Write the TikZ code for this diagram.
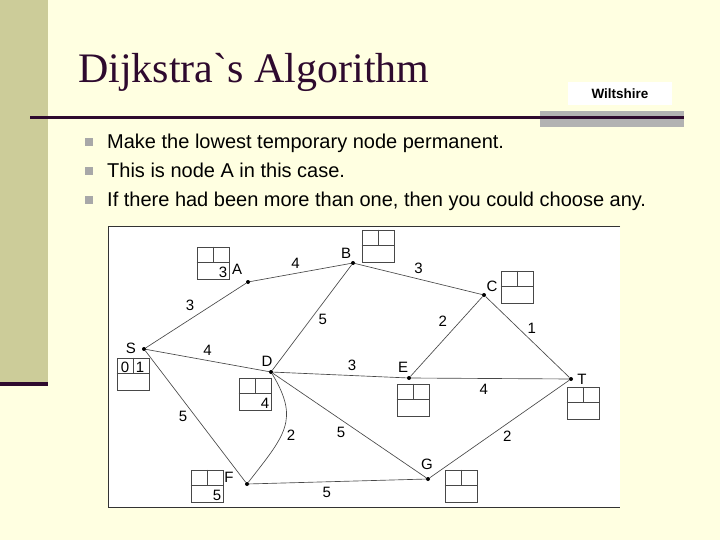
\documentclass[tikz,border=0pt]{standalone}
\usepackage{fontspec}
\setmainfont{Liberation Sans}
\newfontfamily\titlefont{Liberation Serif}
\usepackage{xcolor}
\usepackage{tikz}
\usetikzlibrary{positioning,calc}
\definecolor{slidebg}{HTML}{FFFFE1}
\definecolor{strip}{HTML}{CCCC99}
\definecolor{plum}{HTML}{2E0A2E}
\definecolor{bargray}{HTML}{B2B2B2}
\definecolor{bulletgray}{HTML}{A8A8A8}
\definecolor{edgegray}{HTML}{484848}

\begin{document}
\begin{tikzpicture}[
    x=1pt,y=-1pt,
    every node/.style={font=\fontsize{15}{17}\selectfont,inner sep=0pt},
    vertex/.style={circle,fill=black,minimum size=4pt},
    edge/.style={draw=edgegray,line width=0.65pt},
    wlab/.style={font=\fontsize{15}{17}\selectfont},
    cellbox/.style={draw=edgegray,line width=0.7pt,minimum width=32pt,minimum height=32pt},
    bullet/.style={fill=bulletgray,minimum size=7.5pt},
    btext/.style={anchor=base west,font=\fontsize{20}{22}\selectfont},
  ]
  % slide background
  \useasboundingbox (0,0) rectangle (720,540);
  \fill[slidebg] (0,0) rectangle (720,540);
  \fill[strip] (0,0) rectangle (48,382);
  \fill[plum] (0,382) rectangle (48,386);

  % title and header rule
  \node[anchor=base west,font=\titlefont\fontsize{42}{46}\selectfont,text=plum] (title) at (78,83) {Dijkstra`s Algorithm};
  \node[fill=white,minimum width=104pt,minimum height=23pt,font=\bfseries\fontsize{13.5}{15}\selectfont] (county) at (620,94) {Wiltshire};
  \fill[bargray] (540,111) rectangle (684,127);
  \fill[plum] (30,116) rectangle (684,119.5);

  % bullets
  \node[bullet] (b1) at (89,142) {};
  \node[bullet] (b2) at (89,171) {};
  \node[bullet] (b3) at (89,200) {};
  \node[btext] (t1) at (107,149) {Make the lowest temporary node permanent.};
  \node[btext] (t2) at (107,178) {This is node A in this case.};
  \node[btext] (t3) at (107,207) {If there had been more than one, then you could choose any.};

  % network frame
  \fill[white] (108,227) rectangle (620,507);
  \draw[black!80,line width=1pt] (620,227) -- (108,227) -- (108,507) -- (620,507);

  % vertices
  \node[vertex] (S) at (144,349) {};
  \node[vertex] (A) at (248,282) {};
  \node[vertex] (B) at (353,263) {};
  \node[vertex] (C) at (484,295) {};
  \node[vertex] (D) at (271,372) {};
  \node[vertex] (E) at (409,378) {};
  \node[vertex] (T) at (571,379) {};
  \node[vertex] (F) at (247,484) {};
  \node[vertex] (G) at (428,479) {};

  \node (lS) at (131,348) {S};
  \node (lA) at (237,269) {A};
  \node (lB) at (346,253) {B};
  \node (lC) at (492,286) {C};
  \node (lD) at (267,361) {D};
  \node (lE) at (403,367) {E};
  \node (lT) at (582,379) {T};
  \node (lF) at (229,477) {F};
  \node (lG) at (427,464) {G};

  % edges
  \draw[edge] (S) -- (A) node[wlab,pos=0.44,above=8pt] {3};
  \draw[edge] (A) -- (B) node[wlab,pos=0.45,above=5pt] {4};
  \draw[edge] (B) -- (C) node[wlab,midway,above=5pt] {3};
  \draw[edge] (B) -- (D) node[wlab,pos=0.52,right=8pt] {5};
  \draw[edge] (C) -- (E) node[wlab,pos=0.31,left=13pt] {2};
  \draw[edge] (C) -- (T) node[wlab,pos=0.39,right=9pt] {1};
  \draw[edge] (S) -- (D) node[wlab,pos=0.5,above=5pt] {4};
  \draw[edge] (D) -- (E) node[wlab,pos=0.59,above=5pt] {3};
  \draw[edge] (E) -- (T) node[wlab,pos=0.46,below=5pt] {4};
  \draw[edge] (S) -- (F) node[wlab,pos=0.5,left=8pt] {5};
  \draw[edge] (D) .. controls (300,420) and (285,435) .. (F) node[wlab,pos=0.58,right=5pt] {2};
  \draw[edge] (D) -- (G) node[wlab,pos=0.48,below left=3pt and 1pt] {5};
  \draw[edge] (F) -- (G) node[wlab,pos=0.44,below=5pt] {5};
  \draw[edge] (G) -- (T) node[wlab,pos=0.43,right=13pt] {2};

  % label boxes
  \foreach \nm/\px/\py in {S/133/374, A/213/263, B/378/246, C/517/287, D/255/394,
                           E/413/400, T/583/403, F/207/486, G/461/486}{
    \node[cellbox] (box\nm) at (\px,\py) {};
    \draw[edgegray,line width=0.7pt] ($(box\nm.west)+(0,-1)$) -- ($(box\nm.east)+(0,-1)$);
    \draw[edgegray,line width=0.7pt] (box\nm.north) -- ($(box\nm.center)+(0,-1)$);
  }
  \node[anchor=center] (vS1) at (125,367) {0};
  \node[anchor=center] (vS2) at (140,367) {1};
  \node[anchor=south east] (vA) at ($(boxA.south east)+(-2,-2)$) {3};
  \node[anchor=south east] (vD) at ($(boxD.south east)+(-2,-2)$) {4};
  \node[anchor=south east] (vF) at ($(boxF.south east)+(-2,-2)$) {5};
\end{tikzpicture}
\end{document}
